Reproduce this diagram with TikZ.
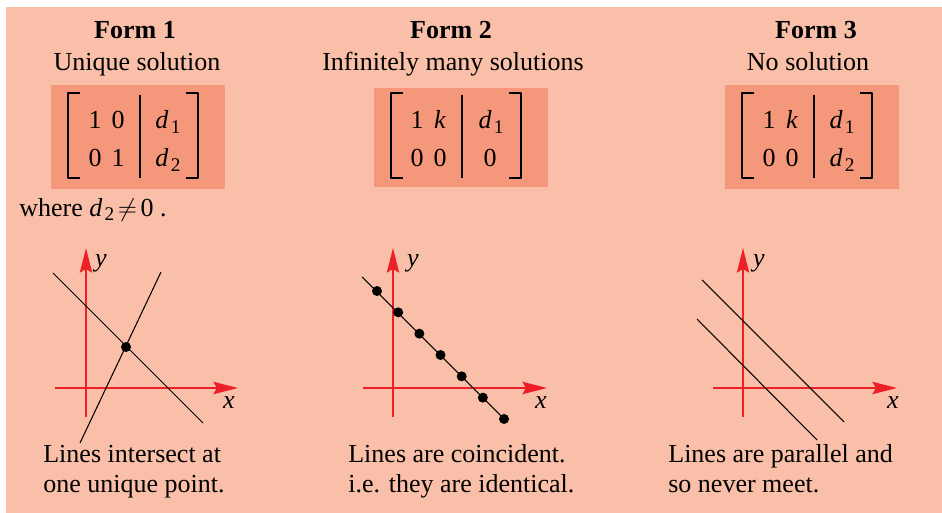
\documentclass[tikz,border=0pt]{standalone}
\usepackage{fontspec}
\setmainfont{Liberation Serif}
\usepackage{tikz}
\usetikzlibrary{arrows.meta}
\definecolor{bgc}{RGB}{249,191,168}
\definecolor{boxc}{RGB}{245,151,122}
\definecolor{axc}{RGB}{237,32,39}
\newcommand{\dd}[1]{\textit{d}\kern1.3pt\raisebox{-0.4ex}{\fontsize{11}{12}\selectfont #1}}

\begin{document}
\begin{tikzpicture}[x=0.02cm,y=-0.02cm,line join=round,
  txt/.style={font=\fontsize{14.8}{17}\selectfont,inner sep=0pt},
  ttl/.style={txt,anchor=base},
  captxt/.style={txt,anchor=base west},
  brk/.style={line width=0.7pt},
  axis/.style={axc,line width=1.1pt,-{Stealth[length=14pt,width=7pt,inset=2pt]}},
  ln/.style={line width=0.6pt},
  dot/.style={circle,fill=black,inner sep=0pt,minimum size=0.2cm}]
  \useasboundingbox (0,0) rectangle (942,513);
  \fill[bgc] (6,7) rectangle (942,513);
  % titles
  \node[ttl,font=\fontsize{14.8}{17}\selectfont\bfseries] (f1) at (135,39) {Form 1};
  \node[ttl] (s1) at (137,71) {Unique solution};
  \node[ttl,font=\fontsize{14.8}{17}\selectfont\bfseries] (f2) at (451,39) {Form 2};
  \node[ttl] (s2) at (453,71) {Infinitely many solutions};
  \node[ttl,font=\fontsize{14.8}{17}\selectfont\bfseries] (f3) at (816,39) {Form 3};
  \node[ttl] (s3) at (808,71) {No solution};
  % matrices
  \begin{scope}[shift={(51,85)}]
    \fill[boxc] (0,0) rectangle (174,104);
    \draw[brk] (29,8) -| (17,93) -- (29,93); \draw[brk] (135,8) -| (147,93) -- (135,93);
    \draw[brk] (89,10) -- (89,93);
    \node[ttl] (a11) at (44,44) {1}; \node[ttl] (a12) at (67,44) {0}; \node[ttl] (a13) at (117,44) {\dd{1}};
    \node[ttl] (a21) at (44,82) {0}; \node[ttl] (a22) at (67,82) {1}; \node[ttl] (a23) at (117,82) {\dd{2}};
  \end{scope}
  \node[captxt] (wh) at (19,216) {where \dd{2}\kern2pt$\neq$\kern2pt0 .};
  \begin{scope}[shift={(374,85)}]
    \fill[boxc] (0,3) rectangle (174,102);
    \draw[brk] (29,8) -| (17,93) -- (29,93); \draw[brk] (135,8) -| (147,93) -- (135,93);
    \draw[brk] (88,10) -- (88,93);
    \node[ttl] (b11) at (43,44) {1}; \node[ttl] (b12) at (66,44) {\textit{k}}; \node[ttl] (b13) at (117,44) {\dd{1}};
    \node[ttl] (b21) at (43,82) {0}; \node[ttl] (b22) at (66,82) {0}; \node[ttl] (b23) at (116,82) {0};
  \end{scope}
  \begin{scope}[shift={(725,85)}]
    \fill[boxc] (0,0) rectangle (174,104);
    \draw[brk] (29,8) -| (17,93) -- (29,93); \draw[brk] (135,8) -| (147,93) -- (135,93);
    \draw[brk] (89,10) -- (89,93);
    \node[ttl] (c11) at (44,44) {1}; \node[ttl] (c12) at (67,44) {\textit{k}}; \node[ttl] (c13) at (117,44) {\dd{1}};
    \node[ttl] (c21) at (44,82) {0}; \node[ttl] (c22) at (67,82) {0}; \node[ttl] (c23) at (117,82) {\dd{2}};
  \end{scope}
  % graph 1
  \draw[axis] (55,388) -- (238,388); \draw[axis] (86,417) -- (86,248);
  \node[ttl] (y1) at (101,266) {\textit{y}}; \node[ttl] (x1) at (229,408) {\textit{x}};
  \draw[ln] (53,273) -- (203,423); \draw[ln] (80,443) -- (161,272);
  \node[dot] (meet) at (126,347) {};
  \node[captxt] (l1a) at (43,462) {Lines intersect at};
  \node[captxt] (l1b) at (43,492) {one unique point.};
  % graph 2
  \draw[axis] (363,388) -- (547,388); \draw[axis] (393,417) -- (393,248);
  \node[ttl] (y2) at (413,266) {\textit{y}}; \node[ttl] (x2) at (541,408) {\textit{x}};
  \foreach \i in {0,...,6} \node[dot] (p\i) at ({377+21.17*\i},{291+21.33*\i}) {};
  \draw[ln] (362,277) -- (p6.center);
  \node[captxt] (l2a) at (348,462) {Lines are coincident.};
  \node[captxt] (l2b) at (348,492) {i.e. they are identical.};
  % graph 3
  \draw[axis] (713,388) -- (897,388); \draw[axis] (743,417) -- (743,248);
  \node[ttl] (y3) at (759,266) {\textit{y}}; \node[ttl] (x3) at (893,408) {\textit{x}};
  \draw[ln] (702,280) -- (844,422); \draw[ln] (697,319) -- (817,440);
  \node[captxt] (l3a) at (668,462) {Lines are parallel and};
  \node[captxt] (l3b) at (668,492) {so never meet.};
\end{tikzpicture}
\end{document}
